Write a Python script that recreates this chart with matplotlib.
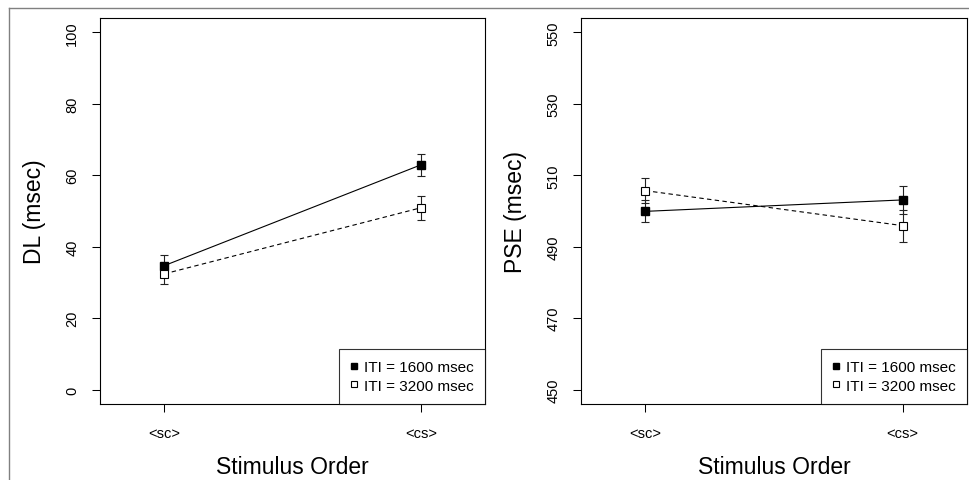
import numpy as np
import matplotlib
matplotlib.use('Agg')
import matplotlib.pyplot as plt
from matplotlib.lines import Line2D

plt.rcParams['font.family'] = ['Liberation Sans', 'DejaVu Sans']

# Stimulus order categories
orders = ['<sc>', '<cs>']
series = ['ITI = 1600 msec', 'ITI = 3200 msec']

# DL (msec) means and standard errors
dl_1600 = [34.7, 62.9]
dl_1600_se = [3.1, 3.0]
dl_3200 = [32.4, 50.9]
dl_3200_se = [2.8, 3.3]

# PSE (msec) means and standard errors
pse_1600 = [499.9, 503.1]
pse_1600_se = [3.1, 4.0]
pse_3200 = [505.7, 495.9]
pse_3200_se = [3.5, 4.5]


##########################################################
#                  One panel per measure                 #
##########################################################

def draw_panel(ax, m1, e1, m2, e2, ylabel, yticks):
    '''Draws both ITI conditions with error bars on one panel.'''
    x = np.arange(1, len(orders) + 1)

    # Error bars first so the markers sit on top
    for m, e in [(m1, e1), (m2, e2)]:
        ax.errorbar(x, m, yerr=e, fmt='none', ecolor='#222222',
                    elinewidth=0.8, capsize=3, capthick=0.8, zorder=2)

    ax.plot(x, m1, color='black', lw=0.8, zorder=3)
    ax.plot(x, m2, color='black', lw=0.8, dashes=(4, 3), zorder=3)

    ax.plot(x, m1, ls='none', marker='s', ms=5.5, mfc='black', mec='black',
            zorder=4, label=series[0])
    ax.plot(x, m2, ls='none', marker='s', ms=5.5, mfc='white', mec='black',
            mew=0.8, zorder=4, label=series[1])

    # Axis limits with R-like padding
    lo, hi = yticks[0], yticks[-1]
    pad = 0.04 * (hi - lo)
    ax.set_ylim(lo - pad, hi + pad)
    ax.set_xlim(0.75, 2.25)

    ax.set_xticks(x)
    ax.set_xticklabels(orders)
    ax.set_yticks(yticks)
    ax.tick_params(axis='y', labelrotation=90, length=6, width=0.75,
                   pad=9, labelsize=10.5)
    ax.tick_params(axis='x', length=6, width=0.75, pad=10, labelsize=10.5)
    for lab in ax.get_yticklabels():
        lab.set_va('center')

    for sp in ax.spines.values():
        sp.set_linewidth(0.8)

    ax.set_ylabel(ylabel, fontsize=16.5)
    ax.yaxis.set_label_coords(-0.169, 0.5)
    ax.yaxis.label.set_va('center')
    ax.set_xlabel('Stimulus Order', fontsize=16.5)
    ax.xaxis.set_label_coords(0.5, -0.163)
    ax.xaxis.label.set_va('center')

    leg = ax.legend(loc='lower right', borderaxespad=0, fontsize=11,
                    frameon=True, fancybox=False, edgecolor='black',
                    handlelength=0.55, handletextpad=0.35, borderpad=0.75,
                    labelspacing=0.3, markerscale=0.85)
    leg.get_frame().set_linewidth(0.8)


fig = plt.figure(figsize=(9.7, 4.81), dpi=100)
W, H = 970.0, 481.0
ax1 = fig.add_axes([100 / W, 1 - 405 / H, 385 / W, 386 / H])
ax2 = fig.add_axes([581 / W, 1 - 405 / H, 386 / W, 386 / H])

draw_panel(ax1, dl_1600, dl_1600_se, dl_3200, dl_3200_se,
           'DL (msec)', [0, 20, 40, 60, 80, 100])
draw_panel(ax2, pse_1600, pse_1600_se, pse_3200, pse_3200_se,
           'PSE (msec)', [450, 470, 490, 510, 530, 550])

# Gray page border seen on the top and left of the reference
fig.add_artist(Line2D([9 / W, 1], [1 - 9 / H, 1 - 9 / H], color='#808080',
                      lw=1, transform=fig.transFigure))
fig.add_artist(Line2D([9 / W, 9 / W], [0, 1 - 9 / H], color='#808080',
                      lw=1, transform=fig.transFigure))

plt.savefig('out.png', dpi=100, facecolor='white')
